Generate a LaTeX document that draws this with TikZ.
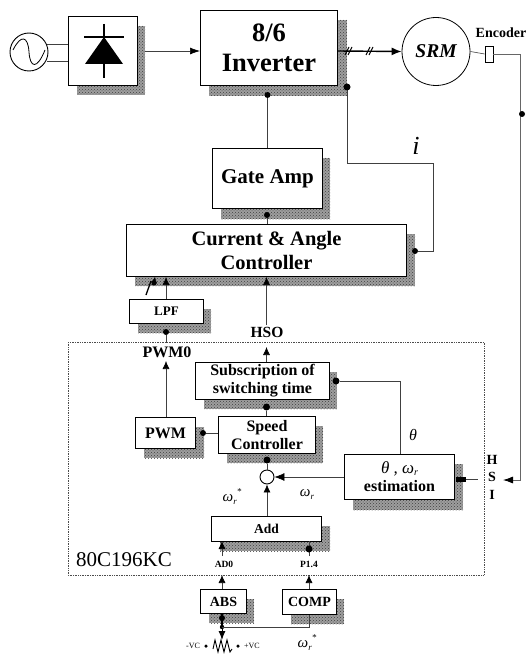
\documentclass[tikz,border=0pt]{standalone}
\usepackage{fontspec}
\setmainfont{Liberation Serif}
\usetikzlibrary{arrows.meta,calc,patterns}
\tikzset{
  shadowfill/.style={fill=black!38,draw=none},
  shadowdots/.style={pattern=crosshatch dots,pattern color=black!75,draw=none},
  blockbox/.style={draw=black,line width=1pt,fill=white,inner sep=0pt,align=center,font=\bfseries},
  wire/.style={draw=black!75,line width=0.6pt},
  tipwire/.style={wire,-{Latex[length=8pt,width=7pt,black]}},
  blob/.style={circle,fill=black,inner sep=0pt,minimum size=6pt},
  lab/.style={inner sep=0pt,font=\bfseries},
  mathlab/.style={inner sep=0pt,font=\itshape},
}
\newcommand{\fsz}[1]{\fontsize{#1}{#1}\selectfont}
% name, x1,y1,x2,y2, shadow x,y, font size, text
\newcommand{\blockat}[9]{%
  \fill[shadowfill] (#2+9,#3+10) rectangle (#6,#7);
  \fill[shadowdots] (#2+9,#3+10) rectangle (#6,#7);
  \pgfmathsetmacro{\bw}{#4-#2}\pgfmathsetmacro{\bh}{#5-#3}
  \node[blockbox,minimum width=\bw pt,minimum height=\bh pt,anchor=north west,font=\bfseries\fsz{#8}] (#1) at (#2,#3) {#9};
}
\begin{document}
\begin{tikzpicture}[x=1pt,y=-1pt]
\useasboundingbox (0,0) rectangle (531,655);
% source
\node[draw,circle,line width=0.9pt,minimum size=38pt,inner sep=0pt] (src) at (29,52) {};
\draw[line width=0.8pt] (src.center) ++(-16,-2) .. controls (21,34) and (28,36) .. (src.center) .. controls (30,68) and (37,70) .. ++(16,-2);
% blocks
\blockat{rect}{68}{16}{136.5}{85}{145}{95}{10}{}
\blockat{inv}{200}{10}{337}{85}{347}{96}{26.5}{8/6\\[3pt]Inverter}
\blockat{gate}{212}{148}{322}{208}{330}{219}{21}{Gate Amp}
\blockat{cac}{126}{224}{406}{276}{415}{286}{20.5}{Current \& Angle\\[3pt]Controller}
\blockat{lpf}{129}{299}{203}{323}{211}{333}{13}{LPF}
\blockat{sub}{195}{362}{329}{399}{337}{409}{16}{Subscription of\\[2pt]switching time}
\blockat{spd}{218}{416}{315}{453}{323}{463}{16}{Speed\\[2pt]Controller}
\blockat{pwm}{135}{417}{195}{448}{204}{458}{16}{PWM}
\blockat{est}{344}{454}{454}{499}{463}{510}{16}{{\mdseries\itshape\fsz{17}θ , ω\raisebox{-2pt}{\fsz{10}r}}\\[2pt]estimation}
\blockat{add}{211}{516}{321}{541}{330}{551}{13.5}{Add}
\blockat{abs}{200}{589}{246}{613}{254}{623}{14}{ABS}
\blockat{comp}{282}{589}{336}{614}{344}{624}{14}{COMP}
% rectifier symbol
\draw[line width=1.2pt] (84,37) -- (124,37) (104,24) -- (104,78);
\fill (104,37) -- (123,64) -- (85,64) -- cycle;
% source leads
\coordinate (srcA) at (47,44); \coordinate (srcB) at (47,61);
\draw[wire] (srcA) -- (srcA -| rect.west) (srcB) -- (srcB -| rect.west);
% SRM + encoder
\node[draw,circle,line width=0.8pt,minimum size=68pt,inner sep=0pt,font=\bfseries\itshape\fsz{19.5}] (srm) at (436,51.5) {SRM};
\node[draw,line width=0.7pt,minimum width=8pt,minimum height=16pt,inner sep=0pt] (enc) at (489,54) {};
\node[lab,font=\bfseries\fsz{14}] (enct) at (501,33) {Encoder};
% dotted boundary
\draw[black!70,densely dotted,line width=0.7pt] (68,342) rectangle (484,575);
\node[inner sep=0pt,font=\fsz{21}] (chip) at (124,560) {80C196KC};
% rectifier->inverter
\coordinate (recOut) at (145,51);
\draw[wire,-{Latex[length=10pt,width=7pt,black]}] (recOut) -- (recOut -| inv.west);
% inverter->SRM
\coordinate (invOut) at (337,51);
\draw[line width=1.4pt,-{Latex[length=10pt,width=8pt]}] (invOut) -- (srm.west);
\draw[line width=1pt] (345,55) -- (349,47) (348,55) -- (352,47) (366,55) -- (370,47) (369,55) -- (373,47);
% i feedback
\coordinate (fbA) at (347,163);\coordinate (fbB) at (433,163);\coordinate (fbC) at (433,251);\coordinate (fbT) at (347,84);
\node[blob] (fbDot) at (415,251) {};
\draw[wire] (fbDot) -- (fbC) -- (fbB) -- (fbA) -- (fbT);
\node[blob,minimum size=7pt] (fbTop) at (347,87) {};
\node[mathlab,font=\itshape\fsz{26}] (ilab) at (416,146) {i};
% inverter-gate-controller
\node[blob] (g1) at (267.5,95) {}; \draw[wire] (g1) -- (gate.north -| g1);
\node[blob] (g2) at (267,215) {}; \draw[wire] (g2) -- (cac.north -| g2);
% encoder wiring
\draw[wire] (srm.east) -- (enc.west);
\coordinate (eA) at (520,54);\coordinate (eB) at (520,480);\coordinate (eC) at (503,480);
\draw[wire,black!60,line width=0.8pt,-{Latex[length=10pt,width=7pt,black]}] (enc.east) -- (eA) -- (eB) -- (eC);
\node[blob] (eDot) at (522,114) {};
% HSO
\coordinate (hsoT) at (266.5,325);
\draw[tipwire] (hsoT) -- (cac.south -| hsoT);
\node[lab,font=\bfseries\fsz{15.5}] (hso) at (267,332) {HSO};
\draw[tipwire] (sub.north -| hsoT) -- +(0,-15);
% LPF
\draw[tipwire] (lpf.north -| 166,0) -- (cac.south -| 166,0);
\node[blob] (lpfD) at (166,332) {}; \draw[wire] (lpfD) -- +(0,11);
\draw[tipwire] (pwm.north -| 166,0) -- (166,361);
\node[lab,font=\bfseries\fsz{16}] (pwm0) at (167,352) {PWM0};
% i* mark
\coordinate (iTop) at (155,277);
\node[blob,minimum size=5pt] (iStar) at (154,283) {};
\draw[-{Latex[length=6pt,width=6pt]}] (iStar) -- (iTop);
\draw[line width=1.3pt] (146,295) -- (151,281);
% internal links
\node[blob,minimum size=7pt] (d1) at (266.5,407) {}; \draw[wire] (d1) -- (spd.north -| d1);
\node[blob,minimum size=7pt] (d2) at (336,381) {};
\coordinate (subIn) at (400,381);
\draw[wire] (d2) -- (subIn) -- (subIn |- est.north);
\node[mathlab,font=\itshape\fsz{16}] (thlab) at (413,435) {θ};
\node[blob] (d3) at (203,433) {}; \draw[wire] (d3) -- (spd.west |- d3);
\node[draw,circle,line width=0.9pt,minimum size=14pt,inner sep=0pt] (sum) at (267,477) {};
\node[blob,minimum size=7pt] (d4) at (267,460) {}; \draw[wire] (d4) -- (sum.north);
\draw[wire,-{Latex[length=10pt,width=8pt,black]}] (est.west |- sum) -- (sum.east);
\draw[tipwire] (add.north -| sum) -- (sum.south);
\node[mathlab,font=\itshape\fsz{15}] (wra) at (232,497) {ω\raisebox{-3pt}{\fsz{9}r}\raisebox{7pt}{\fsz{9}*}};
\node[mathlab,font=\itshape\fsz{15}] (wrb) at (307,494) {ω\raisebox{-3pt}{\fsz{9}r}};
% HSI
\node[lab,font=\bfseries\fsz{14}] (hsiH) at (492,460) {H};
\node[lab,font=\bfseries\fsz{14}] (hsiS) at (492,477) {S};
\node[lab,font=\bfseries\fsz{14}] (hsiI) at (492,495) {I};
\node[blob,rectangle,minimum width=10pt,minimum height=5pt] (d5) at (461,479) {};
\draw[wire] (d5) -- (478,479);
% ADC / port links
\coordinate (adx) at (222,541);\coordinate (pox) at (309,541);
\draw[tipwire] (222,556) -- (adx);
\draw[wire] (309,556) -- (pox);
\node[blob,minimum size=7pt] (d6) at (309,549) {};
\node[lab,font=\bfseries\fsz{9.5}] (ad0) at (224,564) {AD0};
\node[lab,font=\bfseries\fsz{9.5}] (p14) at (309,564) {P1.4};
\draw[tipwire] (abs.north -| adx) -- +(0,-14);
\draw[tipwire] (comp.north -| pox) -- +(0,-14);
% pot
\coordinate (jn) at (222,627);
\coordinate (pot) at (222,640);
\node[blob] (d7) at (222,618) {};
\draw[line width=1.2pt] (jn |- abs.south) -- (jn);
\draw[line width=1pt,-{Latex[length=9pt,width=7pt]}] (jn) -- (pot);
\fill (jn) circle (2.2pt);
\draw[wire] (jn) -- (jn -| comp.south) -- (comp.south);
\draw[line width=0.9pt] (213,649) -- (215,640) -- (218,652) -- (221,640) -- (224,652) -- (227,640) -- (230,652) -- (232,649);
\node[blob,minimum size=3.5pt] (pa) at (206,646) {};
\node[blob,minimum size=3.5pt] (pb) at (238,646) {};
\node[inner sep=0pt,font=\fsz{8}] (vm) at (193,646) {-VC};
\node[inner sep=0pt,font=\fsz{8}] (vp) at (252,646) {+VC};
\node[mathlab,font=\itshape\fsz{15}] (wrc) at (307,643) {ω\raisebox{-3pt}{\fsz{9}r}\raisebox{7pt}{\fsz{9}*}};
\end{tikzpicture}
\end{document}
